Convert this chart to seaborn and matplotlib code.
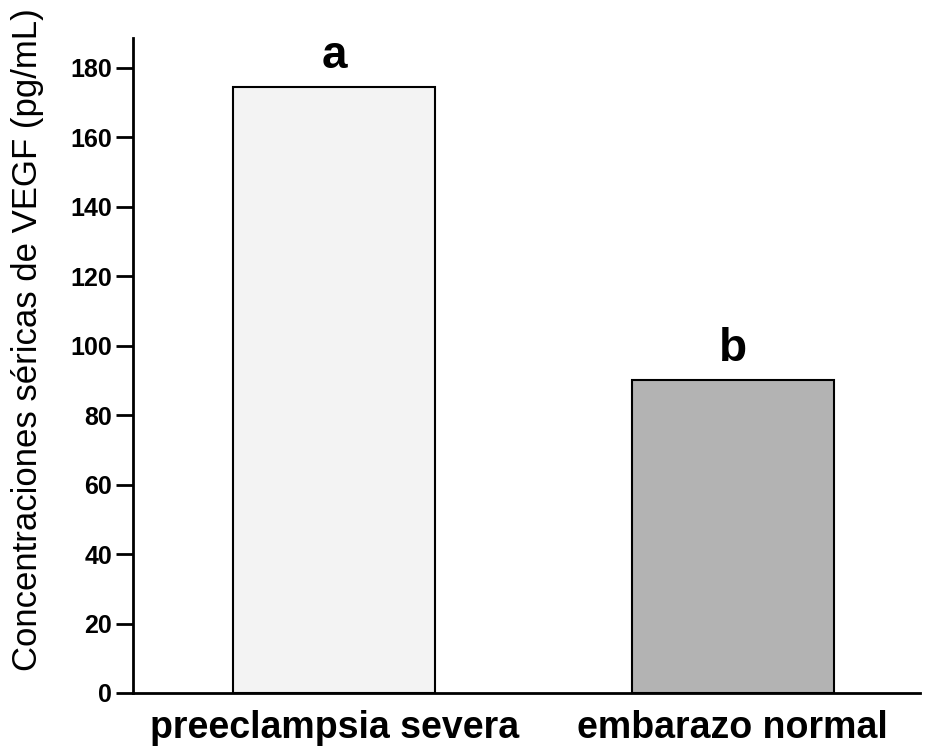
import pandas as pd
import matplotlib
matplotlib.use("Agg")
import matplotlib.pyplot as plt
import seaborn as sns

grupos = ["preeclampsia severa", "embarazo normal"]
vegf = [174.5, 90.0]
letras = ["a", "b"]
colores = ["#f3f3f3", "#b3b3b3"]

df = pd.DataFrame({"grupo": grupos, "vegf": vegf})

sns.set_style("white")
plt.rcParams["font.family"] = ["Liberation Sans", "DejaVu Sans"]
plt.rcParams["text.color"] = "black"

fig = plt.figure(figsize=(9.36, 7.47), dpi=100)
ax = fig.add_axes([0.142, 0.0723, 0.841, 0.8767])

sns.barplot(data=df, x="grupo", y="vegf", hue="grupo", palette=colores,
            width=0.507, edgecolor="black", linewidth=1.5, legend=False, ax=ax)

# letters over the bars
for i, (v, t) in enumerate(zip(vegf, letras)):
    ax.text(i, v + 5.5, t, ha="center", va="baseline", fontsize=33,
            fontweight="bold", color="black")

ax.set_xlim(-0.505, 1.47)
ax.set_ylim(0, 188.6)
ax.set_yticks(range(0, 181, 20))
ax.set_xlabel("")
ax.set_ylabel("Concentraciones séricas de VEGF (pg/mL)", fontsize=25, color="black")
ax.yaxis.set_label_coords(-0.113, 0.54)

sns.despine(ax=ax)
for s in ["left", "bottom"]:
    ax.spines[s].set_linewidth(2)
    ax.spines[s].set_color("black")

ax.tick_params(axis="y", length=12, width=2, labelsize=18, direction="out",
               left=True, colors="black", pad=3)
ax.tick_params(axis="x", length=0, labelsize=27, pad=12, colors="black")
for lbl in ax.get_yticklabels():
    lbl.set_fontweight("bold")
for lbl in ax.get_xticklabels():
    lbl.set_fontweight("bold")

fig.savefig("out.png", dpi=100)
